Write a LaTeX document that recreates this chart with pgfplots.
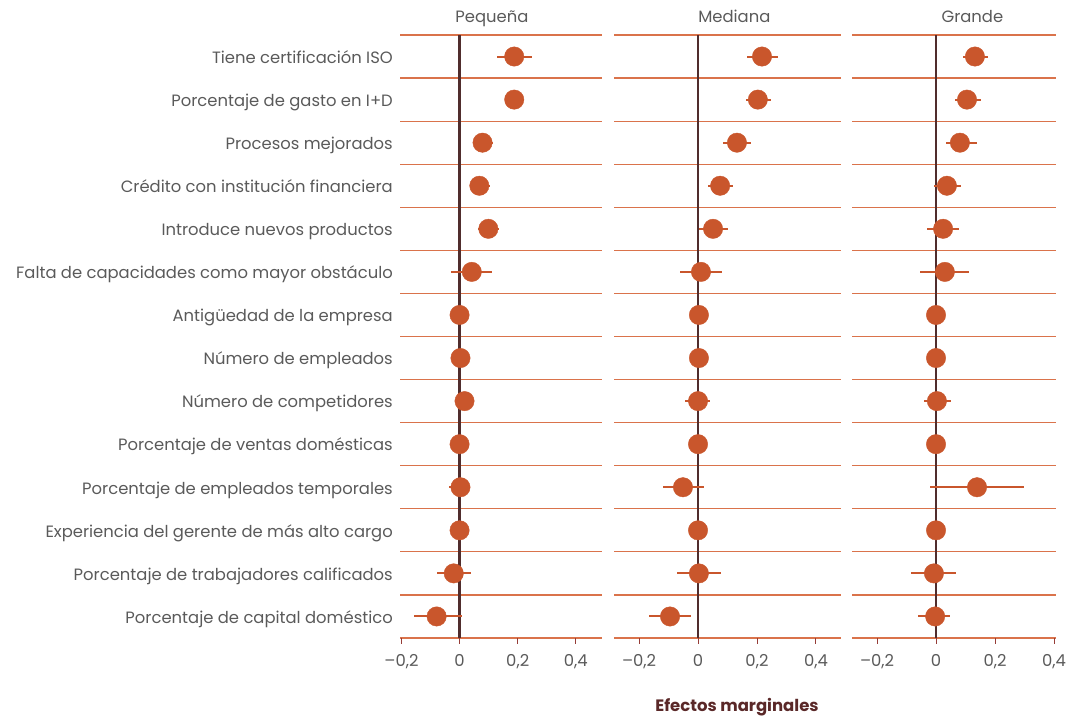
\documentclass[border=0pt]{standalone}
\usepackage{pgfplots}
\pgfplotsset{compat=1.18}
\usepackage{pgfplotstable}
\usepackage{fontspec}
\setmainfont{Poppins}
\definecolor{ptc}{RGB}{201,86,44}
\definecolor{sepc}{RGB}{218,115,75}
\definecolor{zeroc}{RGB}{80,45,45}
\definecolor{textc}{RGB}{90,90,90}
\definecolor{tickc}{RGB}{150,60,55}
\definecolor{labc}{RGB}{90,40,40}

\pgfplotstableread{
y x lo hi
14 0.188 0.13 0.25
13 0.188 0.155 0.22
12 0.079 0.045 0.116
11 0.068 0.038 0.106
10 0.099 0.065 0.137
9 0.042 -0.03 0.11
8 0.0 0.0 0.0
7 0.003 0.003 0.003
6 0.017 0.017 0.017
5 0.0 0.0 0.0
4 0.003 -0.037 0.03
3 0.0 0.0 0.0
2 -0.02 -0.079 0.038
1 -0.079 -0.157 0.007
}\dataP

\pgfplotstableread{
y x lo hi
14 0.217 0.166 0.271
13 0.203 0.163 0.247
12 0.132 0.085 0.18
11 0.075 0.034 0.119
10 0.051 0.003 0.10
9 0.01 -0.061 0.081
8 0.003 0.003 0.003
7 0.003 0.003 0.003
6 0.0 -0.044 0.04
5 0.0 0.0 0.0
4 -0.051 -0.119 0.02
3 0.0 0.0 0.0
2 0.003 -0.07 0.078
1 -0.095 -0.166 -0.024
}\dataM

\pgfplotstableread{
y x lo hi
14 0.132 0.092 0.176
13 0.105 0.064 0.153
12 0.081 0.034 0.139
11 0.037 -0.007 0.085
10 0.024 -0.03 0.078
9 0.03 -0.054 0.112
8 0.0 0.0 0.0
7 0.0 0.0 0.0
6 0.003 -0.04 0.05
5 0.0 0.0 0.0
4 0.139 -0.02 0.298
3 0.0 0.0 0.0
2 -0.007 -0.085 0.068
1 -0.003 -0.06 0.047
}\dataG

\pgfplotsset{panel/.style={
  scale only axis, height=603pt, anchor=south west,
  ymin=0.5, ymax=14.5,
  axis line style={draw=none},
  ytick={1,...,14},
  minor ytick={0.5,1.5,...,14.5},
  yminorgrids,
  minor grid style={sepc, line width=1.2pt},
  minor tick length=0pt,
  y tick style={draw=none},
  xtick={-0.2,0,0.2,0.4},
  xticklabels={{–0,2},0,{0,2},{0,4}},
  xtick pos=bottom,
  tick align=outside,
  major tick length=6pt,
  x tick style={tickc, line width=0.9pt},
  ticklabel style={font=\fontsize{16.4}{17}\selectfont, text=textc},
  xticklabel style={anchor=base, yshift=-23pt},
  yticklabel style={anchor=base east, inner sep=0pt, xshift=-1pt, yshift=-6.8pt},
  title style={anchor=base, yshift=6pt, font=\fontsize{16.4}{17}\selectfont, text=textc},
  clip=false,
}}

\newcommand{\panelplots}[1]{%
  \addplot[zeroc, line width=2.2pt] coordinates {(0,0.5) (0,14.5)};
  \addplot[only marks, mark=*, mark size=9.7pt, color=ptc, mark options={fill=ptc, draw=ptc},
    error bars/.cd, x dir=both, x explicit, error mark=none,
    error bar style={line width=2pt, ptc}]
    table[x=x, y=y, x error plus expr=\thisrow{hi}-\thisrow{x}, x error minus expr=\thisrow{x}-\thisrow{lo}] {#1};
}

\begin{document}
\begin{tikzpicture}[x=1pt,y=1pt]
\useasboundingbox (0,0) rectangle (1076,715);

\begin{axis}[panel, at={(400pt,77pt)}, width=202pt,
  xmin=-0.205, xmax=0.49,
  title={Pequeña}, title style={at={(0.455,1)}},
  yticklabels={Porcentaje de capital doméstico,
    Porcentaje de trabajadores calificados,
    Experiencia del gerente de más alto cargo,
    Porcentaje de empleados temporales,
    Porcentaje de ventas domésticas,
    Número de competidores,
    Número de empleados,
    Antigüedad de la empresa,
    Falta de capacidades como mayor obstáculo,
    Introduce nuevos productos,
    Crédito con institución financiera,
    Procesos mejorados,
    Porcentaje de gasto en I+D,
    Tiene certificación ISO}]
\panelplots{\dataP}
\end{axis}

\begin{axis}[panel, at={(614pt,77pt)}, width=227pt,
  xmin=-0.285, xmax=0.485, yticklabels={},
  title={Mediana}, title style={at={(0.53,1)}}]
\panelplots{\dataM}
\end{axis}

\begin{axis}[panel, at={(852pt,77pt)}, width=204pt,
  xmin=-0.285, xmax=0.407, yticklabels={},
  title={Grande}, title style={at={(0.59,1)}}]
\panelplots{\dataG}
\end{axis}

\node[font=\bfseries\fontsize{16.5}{17}\selectfont, text=labc] at (737,8) {Efectos marginales};
\end{tikzpicture}
\end{document}
